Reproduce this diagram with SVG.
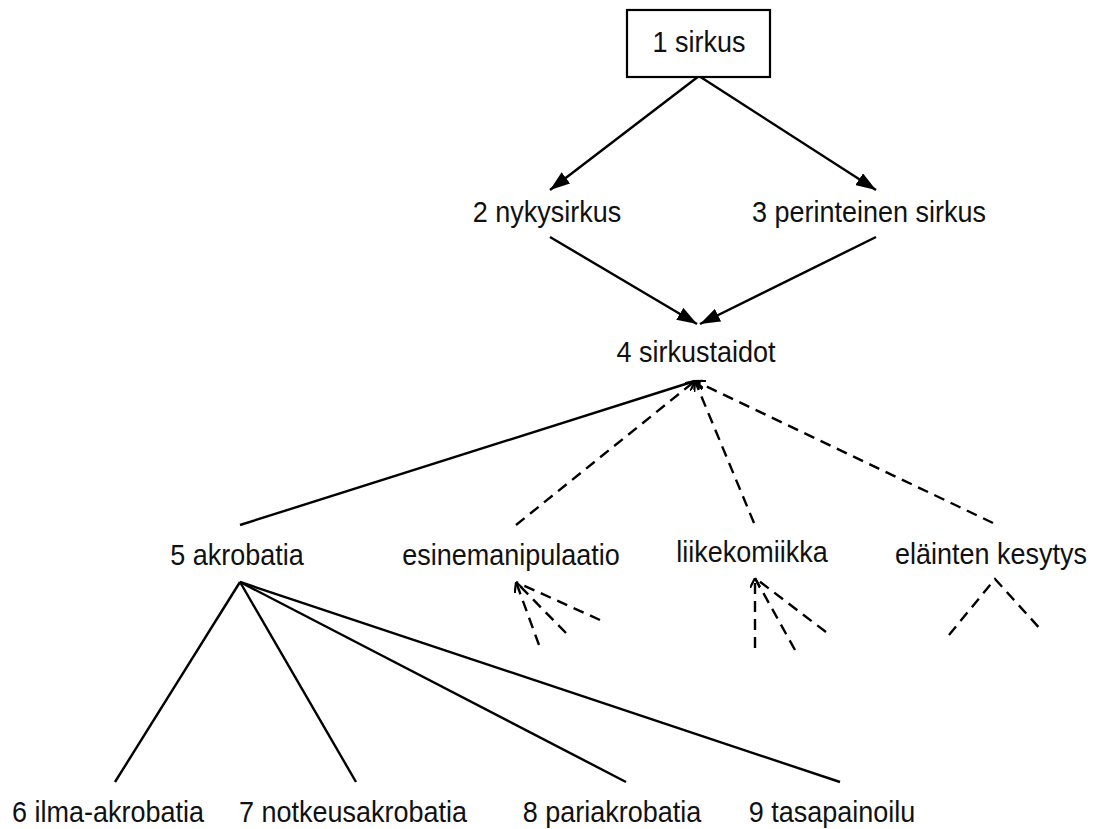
<svg xmlns="http://www.w3.org/2000/svg" width="1098" height="829" viewBox="0 0 1098 829">
<style>
text{font-family:"Liberation Sans",Arial,sans-serif;font-size:27px;fill:#111;text-anchor:middle}
.s{stroke:#000;stroke-width:2.4;fill:none}
.d{stroke:#000;stroke-width:2.4;fill:none;stroke-dasharray:11 7}
.box{fill:#fff;stroke:#000;stroke-width:2.2}
</style>
<defs>
<marker id="arr" viewBox="0 0 20 14" refX="20" refY="7" markerWidth="20" markerHeight="14" markerUnits="userSpaceOnUse" orient="auto">
<path d="M0,0 L20,7 L0,14 Z" fill="#000"/>
</marker>
<marker id="open" viewBox="0 0 10 10" refX="10" refY="5" markerWidth="10" markerHeight="10" markerUnits="userSpaceOnUse" orient="auto">
<path d="M0,0 L10,5 L0,10" fill="none" stroke="#000" stroke-width="2.2"/>
</marker>
</defs>
<g id="connectors">
<line class="s" x1="699" y1="76" x2="550" y2="190" marker-end="url(#arr)"/>
<line class="s" x1="699" y1="76" x2="876" y2="190" marker-end="url(#arr)"/>
<line class="s" x1="550" y1="237" x2="697" y2="324" marker-end="url(#arr)"/>
<line class="s" x1="876" y1="237" x2="700" y2="324" marker-end="url(#arr)"/>
<line class="s" x1="240" y1="525" x2="695" y2="381"/>
<line class="d" x1="516" y1="525" x2="695" y2="381" marker-end="url(#open)"/>
<line class="d" x1="754" y1="523" x2="695" y2="381" marker-end="url(#open)"/>
<line class="d" x1="993" y1="523" x2="695" y2="381" marker-end="url(#open)"/>
<line class="d" x1="539" y1="645" x2="516" y2="582" marker-end="url(#open)"/>
<line class="d" x1="566" y1="633" x2="516" y2="582"/>
<line class="d" x1="600" y1="620" x2="516" y2="582"/>
<line class="d" x1="755" y1="648" x2="755" y2="578" marker-end="url(#open)"/>
<line class="d" x1="795" y1="650" x2="755" y2="578"/>
<line class="d" x1="826" y1="632" x2="755" y2="578"/>
<polyline class="d" points="949,635 995,579 1043,632"/>
<line class="s" x1="240" y1="582" x2="115" y2="782"/>
<line class="s" x1="240" y1="582" x2="356" y2="782"/>
<line class="s" x1="240" y1="582" x2="626" y2="782"/>
<line class="s" x1="240" y1="582" x2="840" y2="782"/>
</g>
<g id="n1"><rect class="box" x="627" y="10" width="143" height="67"/><text transform="translate(699,52) scale(1,1.08)">1 sirkus</text></g>
<g id="n2"><text transform="translate(547,222) scale(1,1.08)">2 nykysirkus</text></g>
<g id="n3"><text transform="translate(869,222) scale(1,1.08)">3 perinteinen sirkus</text></g>
<g id="n4"><text transform="translate(696,362) scale(1,1.08)">4 sirkustaidot</text></g>
<g id="n5"><text transform="translate(237,565) scale(1,1.08)">5 akrobatia</text></g>
<g id="n_esine"><text transform="translate(511,565) scale(1,1.08)">esinemanipulaatio</text></g>
<g id="n_liike"><text transform="translate(752,562) scale(1,1.08)">liikekomiikka</text></g>
<g id="n_elain"><text transform="translate(991,564) scale(1,1.08)">eläinten kesytys</text></g>
<g id="n6"><text transform="translate(108,822) scale(1,1.08)">6 ilma-akrobatia</text></g>
<g id="n7"><text transform="translate(353,822) scale(1,1.08)">7 notkeusakrobatia</text></g>
<g id="n8"><text transform="translate(612,822) scale(1,1.08)">8 pariakrobatia</text></g>
<g id="n9"><text transform="translate(832,822) scale(1,1.08)">9 tasapainoilu</text></g>
</svg>
